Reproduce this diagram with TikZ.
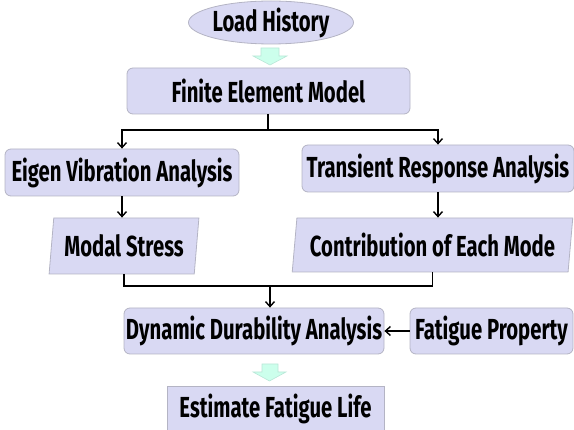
\documentclass[tikz,border=0pt]{standalone}
\usepackage{fontspec}
\setmainfont{Fira Sans}[FakeStretch=0.70]
\usetikzlibrary{shapes.geometric,arrows.meta}
\definecolor{boxfill}{RGB}{217,217,243}
\definecolor{boxline}{RGB}{180,180,196}
\definecolor{mint}{RGB}{204,255,236}
\definecolor{mintline}{RGB}{185,230,215}
\tikzset{
  base/.style={fill=boxfill,draw=boxline,line width=0.8pt,inner sep=0pt,font=\fontsize{29}{30}\selectfont\bfseries},
  rbox/.style={base,rectangle,rounded corners=6pt},
  sbox/.style={base,rectangle},
  ebox/.style={base,ellipse},
  pbox/.style={base,trapezium,trapezium left angle=80,trapezium right angle=100,trapezium stretches=true},
  conn/.style={line width=1.6pt,black},
  arr/.style={conn,-{Straight Barb[length=5pt,width=9pt,line width=1.4pt]}},
  blockarrow/.style={fill=mint,draw=mintline,line width=0.6pt}
}
\begin{document}
\begin{tikzpicture}[x=1pt,y=-1pt]
\useasboundingbox (0,0) rectangle (574,430);
\node[ebox,minimum width=156,minimum height=43] (lh) at (271,22.5) {Load History};
\node[rbox,minimum width=283,minimum height=46] (fem) at (268.5,91) {Finite Element Model};
\node[rbox,minimum width=234,minimum height=47] (eva) at (122,172.5) {Eigen Vibration Analysis};
\node[rbox,minimum width=272,minimum height=47] (tra) at (438,168.5) {Transient Response Analysis};
\node[pbox,minimum width=150,minimum height=56] (ms) at (124,246) {Modal Stress};
\node[pbox,minimum width=281,minimum height=54] (cm) at (432.5,245) {Contribution of Each Mode};
\node[rbox,minimum width=260,minimum height=46] (dda) at (254,331) {Dynamic Durability Analysis};
\node[rbox,minimum width=163,minimum height=46] (fp) at (491.5,331) {Fatigue Property};
\node[sbox,minimum width=217,minimum height=46] (efl) at (275.5,409) {Estimate Fatigue Life};
% block arrows
\draw[blockarrow] (261,48) -- (279,48) -- (279,56) -- (287,56) -- (270,65) -- (253,56) -- (261,56) -- cycle;
\draw[blockarrow] (262,364) -- (278,364) -- (278,372) -- (286,372) -- (269.5,381) -- (253,372) -- (262,372) -- cycle;
% connectors
\coordinate (split) at (268,130);
\coordinate (merge) at (270,286);
\draw[conn] (fem.south -| split) -- (split);
\draw[arr] (split) -| (eva.north);
\draw[arr] (split) -| (tra.north);
\draw[arr] (eva.south) -- (eva.south |- ms.north);
\draw[arr] (tra.south) -- (tra.south |- cm.north);
\draw[conn] (ms.south) |- (merge) -| (cm.south);
\draw[arr] (merge) -- (merge |- dda.north);
\draw[arr] (fp.west) -- (dda.east);
\end{tikzpicture}
\end{document}
